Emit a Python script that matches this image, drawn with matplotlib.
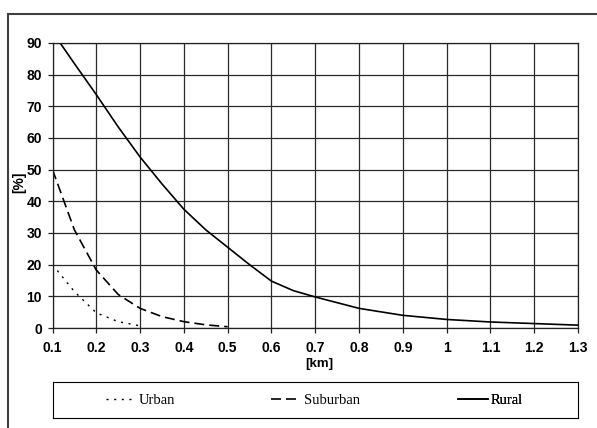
import matplotlib
matplotlib.use("Agg")
import matplotlib.pyplot as plt
from matplotlib.patches import Rectangle

# distance [km] and share [%]
dist = [0.1, 0.15, 0.2, 0.25, 0.3, 0.35, 0.4, 0.45, 0.5, 0.55, 0.6, 0.65,
        0.7, 0.8, 0.9, 1.0, 1.1, 1.2, 1.3]
rural = [93.5, 83.5, 73.7, 63.5, 54.0, 45.5, 37.5, 31.0, 25.5, 20.0, 14.8, 11.8,
         9.8, 6.2, 4.0, 2.7, 1.9, 1.4, 0.9]

dist_sub = [0.1, 0.15, 0.2, 0.25, 0.3, 0.35, 0.4, 0.45, 0.5]
suburban = [50.0, 31.0, 18.3, 10.6, 6.2, 3.6, 2.0, 1.0, 0.4]

dist_urb = [0.1, 0.15, 0.2, 0.25, 0.3]
urban = [20.0, 11.5, 4.8, 2.0, 0.7]

x_ticks = [0.1, 0.2, 0.3, 0.4, 0.5, 0.6, 0.7, 0.8, 0.9, 1.0, 1.1, 1.2, 1.3]
x_labels = ["0.1", "0.2", "0.3", "0.4", "0.5", "0.6", "0.7", "0.8", "0.9",
            "1", "1.1", "1.2", "1.3"]
y_ticks = [0, 10, 20, 30, 40, 50, 60, 70, 80, 90]

plt.rcParams['font.family'] = ['Liberation Sans', 'DejaVu Sans']

fig = plt.figure(figsize=(5.97, 4.28), dpi=100)

# outer frame (only top and left visible in the reference)
fig.add_artist(Rectangle((8 / 597, -0.1), 1.2, 0.1 + (1 - 14 / 428),
                         transform=fig.transFigure, fill=False,
                         edgecolor='#404040', linewidth=1.5))

ax = fig.add_axes([52.5 / 597, 1 - 328 / 428, 525.5 / 597, 285 / 428])

l_urb, = ax.plot(dist_urb, urban, color='black', linewidth=1.0,
                 dashes=(1.5, 4), label='Urban')
l_sub, = ax.plot(dist_sub, suburban, color='black', linewidth=1.2,
                 dashes=(6, 3), label='Suburban')
l_rur, = ax.plot(dist, rural, color='black', linewidth=1.2, label='Rural')

ax.set_xlim(0.1, 1.3)
ax.set_ylim(0, 90)
ax.set_xticks(x_ticks)
ax.set_xticklabels(x_labels)
ax.set_yticks(y_ticks)
ax.grid(True, color='#2a2a2a', linewidth=0.9)
for s in ax.spines.values():
    s.set_color('#222222')
    s.set_linewidth(0.9)
ax.tick_params(axis='both', direction='out', length=3.6, width=0.9,
               colors='#222222', labelcolor='black', labelsize=10)
ax.tick_params(axis='x', pad=5.5)
ax.tick_params(axis='y', pad=4.0)
for lab in ax.get_xticklabels() + ax.get_yticklabels():
    lab.set_fontweight('bold')

fig.text(319 / 597, 1 - 364 / 428, '[km]', ha='center', va='center',
         fontsize=9.5, fontweight='bold')
fig.text(19 / 597, 1 - 182 / 428, '[%]', ha='center', va='center',
         rotation=90, fontsize=10, fontweight='bold')

# legend box below the plot, three entries in equal thirds
lax = fig.add_axes([53 / 597, 1 - 418 / 428, 525 / 597, 36 / 428])
lax.set_xticks([])
lax.set_yticks([])
for s in lax.spines.values():
    s.set_color('black')
    s.set_linewidth(0.8)
for i, h in enumerate([l_urb, l_sub, l_rur]):
    leg = lax.legend(handles=[h], loc='center', bbox_to_anchor=((2 * i + 1) / 6, 0.5),
                     frameon=False, handlelength=2.0, handletextpad=0.2,
                     prop={'family': 'Liberation Serif', 'size': 10.5})
    lax.add_artist(leg)

fig.savefig('out.png', dpi=100)
